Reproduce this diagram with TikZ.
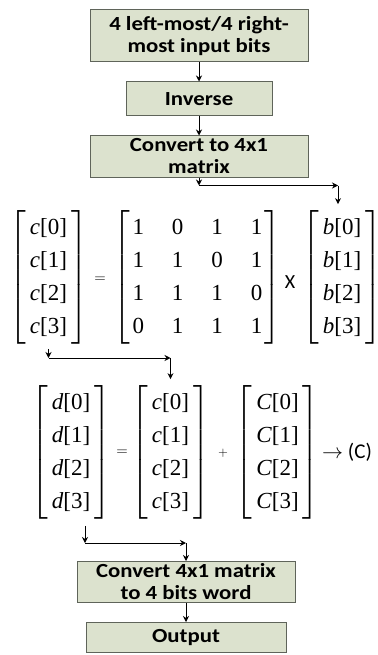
\documentclass[tikz,border=0pt]{standalone}
\usepackage{fix-cm}
\usepackage{amsmath}
\usepackage{fontspec}
\setmainfont{Carlito}
\newfontfamily\cellfont{Liberation Serif}
\usetikzlibrary{arrows.meta}

\definecolor{boxfill}{RGB}{220,226,206}
\definecolor{boxline}{RGB}{95,100,90}

% one entry x[i], and four of them between brackets
\newcommand{\ent}[2]{\textit{#1}[#2]}
\newcommand{\colvec}[4]{$\left[\begin{tabular}{@{\hspace{4pt}}c@{\hspace{4pt}}} #1\\ #2\\ #3\\ #4 \end{tabular}\right]$}

\tikzset{
  stage/.style={draw=boxline,fill=boxfill,line width=1pt,align=center,
    inner sep=0pt,font=\fontsize{20}{22}\selectfont\bfseries\addfontfeature{FakeStretch=1.14}},
  vec/.style={inner sep=0pt,font=\fontsize{23}{28}\selectfont\cellfont},
  op/.style={inner sep=0pt,font=\fontsize{15}{17}\selectfont},
  flow/.style={-{Stealth[length=6pt,width=6pt]},line width=0.9pt}
}
\renewcommand{\arraystretch}{1.18}

\begin{document}
\begin{tikzpicture}[x=1pt,y=-1pt]
  \useasboundingbox (0,0) rectangle (377,655);
  % boxes of the flow
  \node[stage,minimum width=218,minimum height=52] (bits) at (199,36) {4 left-most/4 right-\\most input bits};
  \node[stage,minimum width=146,minimum height=34] (inv) at (199,99) {Inverse};
  \node[stage,minimum width=218,minimum height=41] (tomat) at (199,156.5) {Convert to 4x1\\matrix};
  \node[stage,minimum width=218,minimum height=41] (word) at (186,582) {Convert 4x1 matrix\\to 4 bits word};
  \node[stage,minimum width=200,minimum height=30] (out) at (186,637.5) {Output};

  % c = A x b
  \node[vec] (cvec) at (48.5,277.5) {\colvec{\ent{c}{0}}{\ent{c}{1}}{\ent{c}{2}}{\ent{c}{3}}};
  \node[op] (eqa) at (100,280) {$=$};
  \node[vec] (amat) at (197.5,277.5) {$\left[\begin{tabular}{@{\hspace{2pt}}c@{\hspace{28pt}}c@{\hspace{28pt}}c@{\hspace{28pt}}c@{\hspace{2pt}}} 1&0&1&1\\ 1&1&0&1\\ 1&1&1&0\\ 0&1&1&1 \end{tabular}\right]$};
  \node[inner sep=0pt,font=\fontsize{20}{24}\selectfont] (times) at (290,282) {X};
  \node[vec] (bvec) at (342,277.5) {\colvec{\ent{b}{0}}{\ent{b}{1}}{\ent{b}{2}}{\ent{b}{3}}};

  % d = c + C
  \node[vec] (dvec) at (71,452.5) {\colvec{\ent{d}{0}}{\ent{d}{1}}{\ent{d}{2}}{\ent{d}{3}}};
  \node[op] (eqb) at (122,453) {$=$};
  \node[vec] (ccvec) at (170.5,452.5) {\colvec{\ent{c}{0}}{\ent{c}{1}}{\ent{c}{2}}{\ent{c}{3}}};
  \node[op,font=\fontsize{13}{15}\selectfont] (plus) at (223,453) {$+$};
  \node[vec] (kvec) at (277.5,452.5) {\colvec{\ent{C}{0}}{\ent{C}{1}}{\ent{C}{2}}{\ent{C}{3}}};
  \node[inner sep=0pt,anchor=west,font=\fontsize{21}{24}\selectfont] (key) at (322,452) {$\rightarrow$ (C)};

  % bends of the connectors
  \coordinate (t1) at (199,185.5);
  \coordinate (t2) at (338,185.5);
  \coordinate (c1) at (48.5,358);
  \coordinate (c2) at (170.5,358);
  \coordinate (d1) at (85,543);
  \coordinate (d2) at (186,543);

  \begin{scope}[flow]
    \draw (bits) -- (inv);
    \draw (inv) -- (tomat);
    \draw (tomat) -- (t1);
    \draw (t1) -- (t2);
    \draw[shorten >=6pt] (t2) -- (t2 |- bvec.north);
    \draw[shorten <=4pt] (cvec.south -| c1) -- (c1);
    \draw (c1) -- (c2);
    \draw[shorten >=6pt] (c2) -- (ccvec.north);
    \draw[shorten <=6pt] (dvec.south -| d1) -- (d1);
    \draw (d1) -- (d2);
    \draw (d2) -- (word);
    \draw (word) -- (out);
  \end{scope}
\end{tikzpicture}
\end{document}
